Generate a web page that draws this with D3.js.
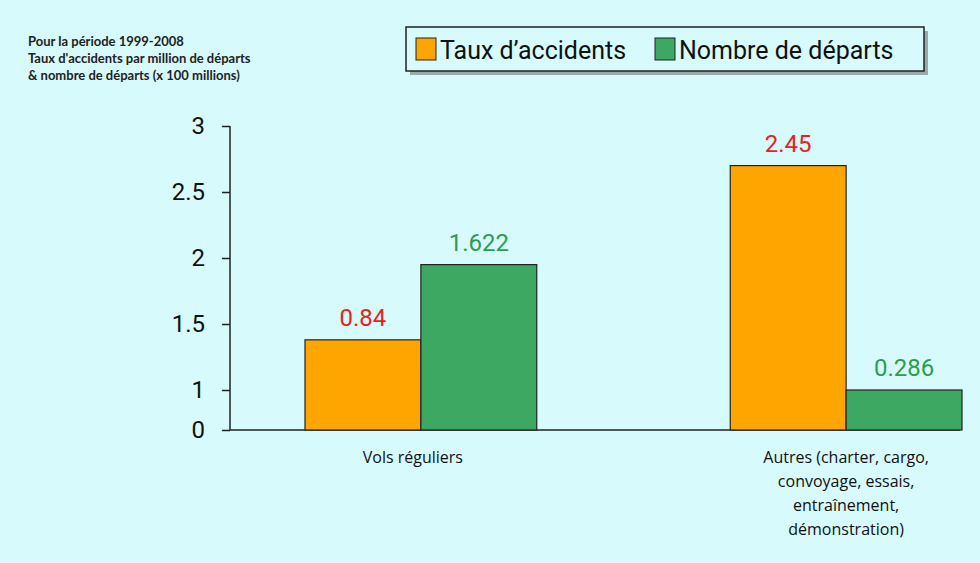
<!DOCTYPE html><html><head><meta charset="utf-8">
<script src="https://d3js.org/d3.v7.min.js"></script>
<style>body{margin:0;background:#d7fafc;font-family:"Open Sans",Lato,sans-serif}</style></head><body>
<svg id="c" width="980" height="563"></svg>
<script>
const categories=["Vols réguliers","Autres"];
const seriesNames=["Taux d’accidents","Nombre de départs"];
const tauxLabels=["0.84","2.45"];
const departsLabels=["1.622","0.286"];
const tauxBarHeights=[1.38,2.70];
const departsBarHeights=[1.95,1.0];
const yTicks=[0,1,1.5,2,2.5,3];
const catLines=[["Vols réguliers"],["Autres (charter, cargo,","convoyage,  essais,","entraînement,","démonstration)"]];
const colors=["#FFA500","#3DA862"];
const labelColors=["#E8231E","#2E9C4F"];

const svg=d3.select("#c");
svg.append("rect").attr("width",980).attr("height",563).attr("fill","#d7fafc");
const y=d3.scaleLinear().domain([0,1,3]).range([430,390,126]);
const x0=d3.scaleBand().domain(categories).range([305,962]).paddingInner(0.455).paddingOuter(0);
const x1=d3.scaleBand().domain([0,1]).range([0,x0.bandwidth()]);

const ax=svg.append("g").attr("transform","translate(230,0)").call(d3.axisLeft(y).tickValues(yTicks).tickSize(8).tickFormat(d=>d));
ax.select(".domain").attr("stroke","#222").attr("stroke-width",1.5).attr("d","M0,126V430");
ax.selectAll("line").attr("stroke","#222").attr("stroke-width",1.5);
ax.selectAll("text").attr("font-size",24).attr("font-family","Roboto,sans-serif").attr("fill","#111").attr("x",-25).attr("text-anchor","end");
svg.append("line").attr("x1",230).attr("x2",960).attr("y1",430).attr("y2",430).attr("stroke","#222").attr("stroke-width",1.5);

const series=[tauxBarHeights,departsBarHeights];
const labels=[tauxLabels,departsLabels];
series.forEach((vals,s)=>{
  categories.forEach((c,i)=>{
    const bx=x0(c)+x1(s), bw=x1.bandwidth();
    svg.append("rect").attr("x",bx).attr("y",y(vals[i])).attr("width",bw).attr("height",430-y(vals[i]))
      .attr("fill",colors[s]).attr("stroke","#222").attr("stroke-width",1.2);
    svg.append("text").attr("x",bx+bw/2).attr("y",y(vals[i])-14).attr("text-anchor","middle")
      .attr("font-size",24).attr("font-family","Roboto,sans-serif").attr("fill",labelColors[s]).text(labels[s][i]);
  });
});
categories.forEach((c,i)=>{
  const cx=x0(c)+x0.bandwidth()/2+(i==0?-8:0);
  catLines[i].forEach((l,j)=>svg.append("text").attr("x",cx).attr("y",463+j*24).attr("text-anchor","middle")
    .attr("font-size",16).attr("fill","#111").text(l));
});
["Pour la période 1999-2008","Taux d'accidents par million de départs","& nombre de départs (x 100 millions)"].forEach((t,j)=>
  svg.append("text").attr("x",28).attr("y",46+j*17).attr("font-size",13).attr("font-weight","bold").attr("font-family","Lato,sans-serif").attr("fill","#222").text(t));
// legend
svg.append("rect").attr("x",410).attr("y",31).attr("width",518).attr("height",44).attr("fill","#9aa");
svg.append("rect").attr("x",406).attr("y",27).attr("width",518).attr("height",44).attr("fill","#d7fafc").attr("stroke","#222").attr("stroke-width",1.5);
const lx=[416,655];
seriesNames.forEach((n,s)=>{
  svg.append("rect").attr("x",lx[s]).attr("y",38).attr("width",20).attr("height",22).attr("fill",colors[s]).attr("stroke","#222");
  svg.append("text").attr("x",lx[s]+24).attr("y",59).attr("font-size",25).attr("font-family","Roboto,sans-serif").attr("fill","#111").text(n);
});
</script></body></html>
